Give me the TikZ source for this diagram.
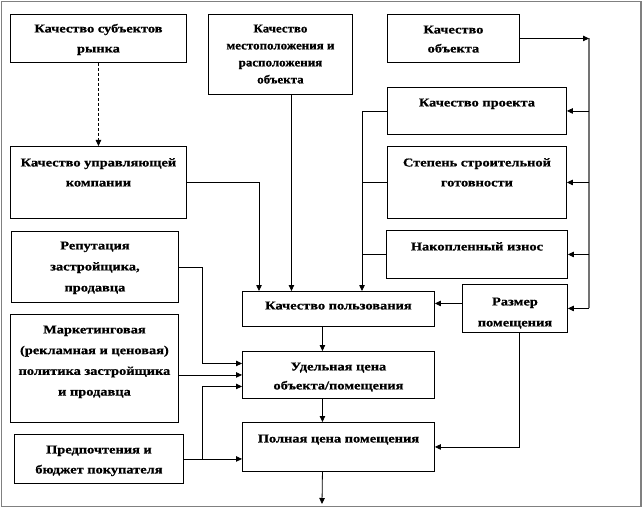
\documentclass[tikz,border=0pt]{standalone}
\usepackage{fontspec}
\setmainfont{Liberation Serif}
\newfontfamily\widefont[FakeStretch=1.2, BoldFeatures={FakeBold=0.8}]{Liberation Serif}
\newfontfamily\narrowfont[FakeStretch=1.08, BoldFeatures={FakeBold=0.8}]{Liberation Serif}
\usetikzlibrary{arrows.meta,calc}
\newcommand\bx[8]{\node[bx] (#1) at (#2,#3) {\parbox[c][\dimexpr#5pt-#3pt\relax][t]{\dimexpr#4pt-#2pt\relax}{\baselineskip=#7pt\centering\rule{0pt}{#6pt}#8}};}
\begin{document}
\begin{tikzpicture}[x=1pt,y=-1pt,
  bx/.style={draw=black, line width=0.9pt, inner sep=0pt, anchor=north west,
    font=\widefont\fontsize{12}{14}\selectfont\bfseries},
  ln/.style={line width=0.8pt},
  arr/.style={ln, -{Triangle[length=6pt,width=5.5pt]}},
  busline/.style={line width=1.2pt, draw=black!55}]
\useasboundingbox (0,0) rectangle (643,508);
\draw[black!50, line width=1.3pt] (1.5,1.5) rectangle (641,506.5);
% boxes
\bx{subj}{10}{14}{186}{62}{18}{20}{Качество субъектов\\рынка}
\bx{loc}{208}{14}{352}{94}{18}{17}{\narrowfont\bfseries Качество\\местоположения и\\расположения\\объекта}
\bx{obj}{387}{14}{519}{62}{19}{19}{Качество\\объекта}
\bx{proj}{387}{87}{566}{134}{19}{20}{Качество проекта}
\bx{step}{387}{146}{566}{218}{20}{20}{Степень строительной\\готовности}
\bx{izn}{386}{230}{567}{278}{20}{20}{Накопленный износ}
\bx{razm}{462}{284}{567}{332}{21}{21}{Размер\\помещения}
\bx{kp}{242}{291}{434}{326}{18}{20}{Качество пользования}
\bx{ud}{242}{351}{434}{398}{19}{19}{Удельная цена\\объекта/помещения}
\bx{poln}{242}{422}{434}{471}{20}{20}{Полная цена помещения}
\bx{uk}{10}{146}{186}{218}{20}{20}{Качество управляющей\\компании}
\bx{rep}{11}{231}{178}{302}{18}{21}{Репутация\\застройщика,\\продавца}
\bx{mark}{10}{314}{178}{422}{19}{20.7}{Маркетинговая\\(рекламная и ценовая)\\политика застройщика\\и продавца}
\bx{pred}{14}{434}{183}{483}{19}{20}{Предпочтения и\\бюджет покупателя}
% bus coordinates
\coordinate (lbus) at (362,0);
\coordinate (rbus) at (589,0);
\coordinate (lx) at (202,0);
\coordinate (out) at (322,504);
% connectors
\draw[arr, dash pattern=on 3pt off 2pt] (subj.south) -- (uk.north);
\draw[arr] (uk.east) -| ($(kp.north west)+(17,0)$);
\draw[arr] ([xshift=11pt]loc.south) -- ([xshift=11pt]loc.south |- kp.north);
\draw[arr] (proj.west) -| (lbus |- kp.north);
\draw[ln] (step.west) -- (step.west -| lbus);
\draw[ln] (izn.west) -- (izn.west -| lbus);
\draw[busline] (obj.east -| rbus) -- (rbus |- razm.east);
\draw[arr] (obj.east) -- (obj.east -| rbus);
\draw[arr] (rbus |- proj.east) -- (proj.east);
\draw[arr] (rbus |- step.east) -- (step.east);
\draw[arr] (rbus |- izn.east) -- (izn.east);
\draw[arr] (rbus |- razm.east) -- (razm.east);
\draw[arr] ([yshift=5pt]razm.west) -- ([yshift=5pt]razm.west -| kp.east);
\draw[arr] ([xshift=-16pt]kp.south) -- ([xshift=-16pt]kp.south |- ud.north);
\draw[arr] ([xshift=-16pt]ud.south) -- ([xshift=-16pt]ud.south |- poln.north);
\draw[arr] ([xshift=-16pt]poln.south) -- (out);
\draw[arr] ([xshift=4pt]razm.south) |- (poln.east);
\draw[arr] (rep.east) -| ([yshift=11.5pt]ud.west -| lx) -- ([yshift=11.5pt]ud.west);
\draw[arr] (mark.east |- ud.west) -- (ud.west);
\draw[arr] (pred.east) -- (pred.east -| poln.west);
\draw[arr] (pred.east -| lx) |- ([yshift=-11.5pt]ud.west);
\end{tikzpicture}
\end{document}
